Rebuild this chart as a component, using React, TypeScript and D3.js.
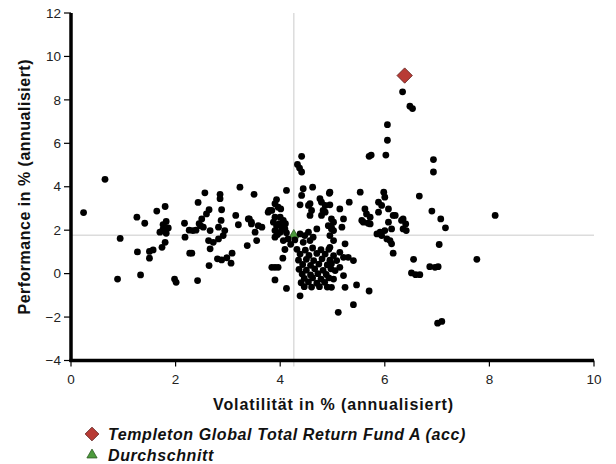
import React from "react";
import * as d3 from "d3";

const W = 616;
const H = 464;

const xTicks = [0, 2, 4, 6, 8, 10];
const yTicks = [-4, -2, 0, 2, 4, 6, 8, 10, 12];

const xTitle = "Volatilität in % (annualisiert)";
const yTitle = "Performance in % (annualisiert)";

const fundName = "Templeton Global Total Return Fund A (acc)";
const fundPoint: [number, number] = [6.38, 9.12];

const averageName = "Durchschnitt";
const averagePoint: [number, number] = [4.26, 1.77];

// peer funds: [volatility, performance]
const peersLeft: [number, number][] = [
  [0.24, 2.81], [0.65, 4.34], [0.89, -0.25], [0.94, 1.62], [1.26, 2.6], [1.27, 1.0],
  [1.33, -0.06], [1.41, 2.32], [1.5, 1.02], [1.57, 1.09], [1.5, 0.71], [1.64, 2.88],
  [1.8, 3.09], [1.82, 2.4], [1.76, 2.26], [1.7, 1.91], [1.82, 1.86], [1.8, 1.44],
  [1.74, 1.21], [1.98, -0.25], [2.01, -0.4], [2.17, 2.32], [2.26, 2.0], [2.33, 1.98],
  [2.39, 2.0], [2.43, 3.28], [2.45, 2.3], [2.27, 0.94], [2.31, 0.94], [2.18, 1.68],
  [2.42, -0.32], [1.76, 2.05], [1.86, 2.1],
];

const peersCenterLeft: [number, number][] = [
  [2.56, 3.72], [2.85, 3.65], [2.85, 3.45], [3.23, 3.98], [3.5, 3.65], [2.64, 2.94],
  [2.88, 2.94], [2.59, 2.75], [2.5, 2.52], [2.87, 2.45], [3.15, 2.68], [3.2, 2.25],
  [3.39, 2.52], [3.45, 2.29], [3.58, 2.21], [3.52, 1.91], [2.53, 2.14], [2.48, 2.2],
  [2.66, 1.98], [2.82, 2.14], [2.94, 1.98], [2.91, 1.75], [2.63, 1.52], [2.72, 1.44],
  [2.82, 1.6], [2.66, 1.14], [3.55, 1.52], [3.37, 1.29], [3.08, 0.94], [2.98, 0.73],
  [2.8, 0.68], [2.88, 0.63], [3.06, 0.48], [2.64, 0.37], [3.41, 2.52], [3.45, 2.37],
];

const peersColumn: [number, number][] = [
  [3.65, 2.14], [3.77, 2.83], [3.79, 2.91], [3.84, 2.91], [3.93, 3.41], [3.9, 3.22],
  [3.96, 3.06], [4.01, 2.98], [4.12, 3.83], [3.9, 2.6], [4.0, 2.6], [4.06, 2.45],
  [3.87, 2.37], [3.93, 2.21], [4.03, 2.14], [4.09, 2.06], [3.9, 1.98], [4.0, 1.91],
  [4.12, 1.88], [3.9, 1.68], [4.06, 1.52], [4.09, 1.11], [4.05, 0.71], [3.9, 0.29],
  [3.96, 0.29], [3.9, -0.29], [4.12, -0.68], [4.38, -1.02], [3.84, 0.29], [3.98, 2.3],
  [4.1, 2.3], [3.95, 1.8], [4.15, 1.6], [4.2, 1.35], [4.28, 1.55],
];

const peersCenterTop: [number, number][] = [
  [4.41, 5.4], [4.33, 5.03], [4.37, 4.86], [4.41, 4.68], [4.44, 3.91], [4.62, 3.98],
  [4.41, 3.6], [4.95, 3.75], [4.38, 3.17], [4.57, 3.22], [4.6, 2.91], [4.57, 2.68],
  [4.76, 3.45], [4.79, 3.29], [4.86, 3.14], [4.95, 3.17], [4.79, 2.68], [4.86, 2.83],
  [4.92, 2.21], [4.98, 2.06], [4.7, 2.06], [4.54, 1.91], [4.38, 1.83], [4.47, 1.75],
  [4.44, 1.44], [4.57, 1.52], [4.63, 1.68], [4.94, 3.7], [4.54, 3.14], [4.82, 2.91],
  [5.14, 2.98], [5.21, 2.52],
];

const peersCenterDense: [number, number][] = [
  [4.32, 1.12], [4.48, 1.08], [4.62, 1.18], [4.78, 1.1], [4.93, 1.12],
  [4.38, 0.9], [4.55, 0.84], [4.7, 0.93], [4.86, 0.9],
  [4.35, 0.62], [4.5, 0.66], [4.64, 0.6], [4.8, 0.68], [4.95, 0.62],
  [4.43, 0.42], [4.58, 0.38], [4.74, 0.44], [4.9, 0.4],
  [4.36, 0.2], [4.5, 0.16], [4.66, 0.22], [4.82, 0.15], [4.97, 0.22],
  [4.42, -0.02], [4.58, -0.06], [4.72, 0.0], [4.88, -0.04],
  [4.46, -0.22], [4.62, -0.2], [4.78, -0.25], [4.93, -0.2],
  [4.4, -0.42], [4.54, -0.38], [4.7, -0.44], [4.85, -0.4],
  [4.46, -0.6], [4.6, -0.62], [4.75, -0.6], [4.9, -0.62],
];

const peersCenterRight: [number, number][] = [
  [5.53, 3.75], [5.32, 3.29], [5.18, 2.14], [4.98, 2.52], [5.02, 2.37], [4.98, 2.14],
  [5.02, 1.98], [4.95, 1.75], [5.02, 1.52], [4.95, 1.21], [5.24, 1.37], [5.14, 0.98],
  [5.21, 0.75], [5.3, 0.75], [5.4, 0.6], [5.02, 0.83], [5.08, 0.6], [4.98, 0.45],
  [5.14, 0.29], [5.05, 0.14], [5.21, -0.09], [5.02, -0.25], [4.98, -0.63], [5.24, -0.63],
  [5.46, -0.52], [5.7, -0.8], [5.4, -1.43], [5.11, -1.78],
];

const peersRight: [number, number][] = [
  [5.98, 3.75], [6.0, 3.52], [5.88, 3.29], [5.94, 3.14], [6.07, 2.98], [5.62, 2.98],
  [5.65, 2.75], [5.72, 2.6], [5.59, 2.37], [5.68, 2.32], [5.88, 2.83], [6.16, 2.68],
  [6.07, 2.37], [6.13, 2.06], [6.32, 2.45], [6.35, 2.06], [5.91, 1.91], [6.0, 1.98],
  [5.85, 1.83], [5.94, 1.75], [6.04, 1.6], [6.1, 1.52], [6.13, 1.37], [6.16, 0.94],
  [6.05, 6.86], [6.05, 6.14], [6.02, 5.46], [5.7, 5.4], [5.74, 5.46], [6.34, 8.37],
  [6.48, 7.71], [6.53, 7.6], [6.66, 3.57], [6.93, 5.25], [6.93, 4.68], [6.9, 2.88],
  [7.07, 2.52], [7.16, 2.11], [7.04, 1.34], [8.11, 2.68], [6.35, 2.52], [6.4, 2.29],
  [6.41, 1.98], [6.55, 0.66], [7.76, 0.66], [6.51, 0.03], [6.59, -0.05], [6.67, -0.05],
  [6.86, 0.32], [6.96, 0.29], [7.02, 0.32], [7.01, -2.28], [7.09, -2.2], [5.56, 2.45],
  [5.72, 2.29], [6.2, 2.68],
];

const peers = [
  ...peersLeft, ...peersCenterLeft, ...peersColumn, ...peersCenterTop,
  ...peersCenterDense, ...peersCenterRight, ...peersRight,
];

const FONT = "'Liberation Sans', Arial, Helvetica, sans-serif";

export default function App() {
  const x = d3.scaleLinear().domain([0, 10]).range([71, 594]);
  const y = d3.scaleLinear().domain([-4, 12]).range([360.5, 13]);

  const diamond = d3.symbol().type(d3.symbolDiamond2).size(150)()!;
  const tri = d3.symbol().type(d3.symbolTriangle2).size(70)()!;
  const legDiamond = d3.symbol().type(d3.symbolDiamond2).size(120)()!;
  const legTri = d3.symbol().type(d3.symbolTriangle2).size(75)()!;

  const [x0, x1] = x.range();
  const [yb, yt] = y.range();

  return (
    <svg
      width={W}
      height={H}
      style={{ position: "absolute", left: 0, top: 0, background: "#fff" }}
      fontFamily={FONT}
    >
      {/* crosshair of average */}
      <line x1={x(averagePoint[0])} x2={x(averagePoint[0])} y1={yt} y2={yb + 6} stroke="#dcdcdc" strokeWidth={1.5} />
      <line x1={x0} x2={x1} y1={y(averagePoint[1])} y2={y(averagePoint[1])} stroke="#dcdcdc" strokeWidth={1.5} />

      {/* average marker */}
      <path d={tri} transform={`translate(${x(averagePoint[0])},${y(averagePoint[1])})`} fill="#4c9a3c" stroke="#2d5a25" strokeWidth={0.8} />

      {/* peers */}
      {peers.map((p, i) => (
        <circle key={i} cx={x(p[0])} cy={y(p[1])} r={3.4} fill="#000" />
      ))}

      {/* fund marker */}
      <path d={diamond} transform={`translate(${x(fundPoint[0])},${y(fundPoint[1])})`} fill="#b83b35" stroke="#5a1a18" strokeWidth={0.8} />

      {/* axes */}
      <line x1={x0} x2={x0} y1={yt} y2={yb + 1.5} stroke="#000" strokeWidth={3.5} />
      <line x1={x0 - 1.5} x2={x1} y1={yb} y2={yb} stroke="#000" strokeWidth={3.5} />
      {yTicks.map((t) => (
        <g key={t}>
          <line x1={x0 - 7} x2={x0} y1={y(t)} y2={y(t)} stroke="#000" strokeWidth={1.2} />
          <text x={x0 - 10} y={y(t)} dy="0.35em" textAnchor="end" fontSize={13.5} fill="#222">
            {t < 0 ? `\u2212${Math.abs(t)}` : t}
          </text>
        </g>
      ))}
      {xTicks.map((t) => (
        <g key={t}>
          <line x1={x(t)} x2={x(t)} y1={yb} y2={yb + 6} stroke="#000" strokeWidth={1.2} />
          <text x={x(t)} y={yb + 23} textAnchor="middle" fontSize={13.5} fill="#222">
            {t}
          </text>
        </g>
      ))}

      {/* titles */}
      <text x={(x0 + x1) / 2 + 1} y={410} textAnchor="middle" fontSize={16} fontWeight="bold" letterSpacing={0.9} fill="#111">
        {xTitle}
      </text>
      <text
        transform={`translate(30,${(yt + yb) / 2}) rotate(-90)`}
        textAnchor="middle"
        fontSize={16}
        fontWeight="bold"
        letterSpacing={0.5}
        fill="#111"
      >
        {yTitle}
      </text>

      {/* legend */}
      <path d={legDiamond} transform="translate(92,434)" fill="#b83b35" stroke="#5a1a18" strokeWidth={0.8} />
      <text x={108} y={440} fontSize={16} fontWeight="bold" fontStyle="italic" letterSpacing={0.6} fill="#111">
        {fundName}
      </text>
      <path d={legTri} transform="translate(92,455)" fill="#4c9a3c" stroke="#2d5a25" strokeWidth={0.8} />
      <text x={108} y={461} fontSize={16} fontWeight="bold" fontStyle="italic" letterSpacing={0.6} fill="#111">
        {averageName}
      </text>
    </svg>
  );
}
